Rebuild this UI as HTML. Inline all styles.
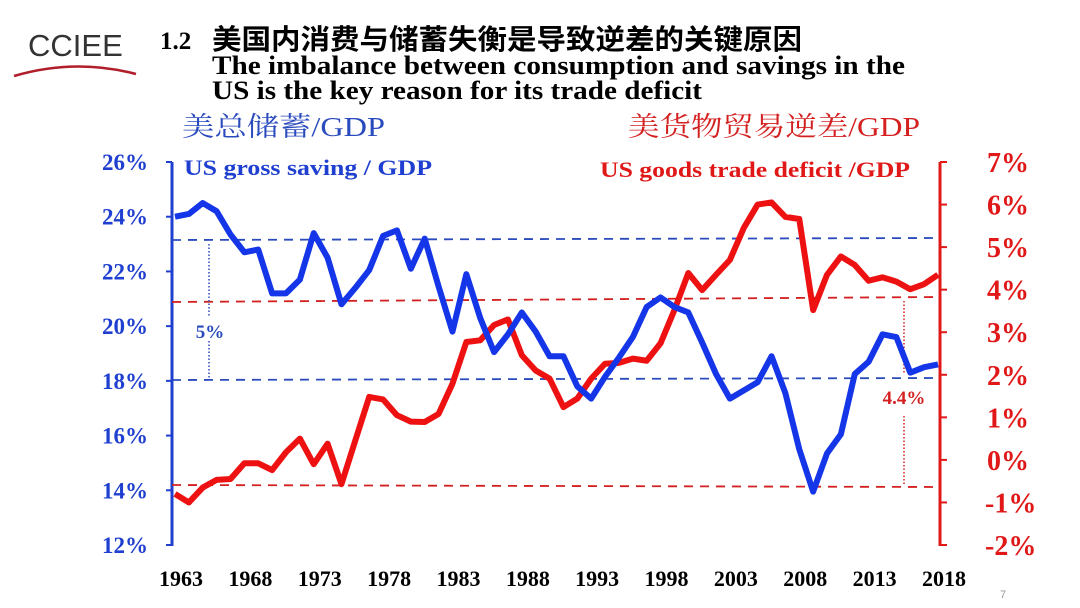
<!DOCTYPE html>
<html><head><meta charset="utf-8"><style>
body{margin:0;background:#fff;width:1080px;height:608px;overflow:hidden}
svg{display:block}
.t{font-family:"Liberation Serif","Noto Serif CJK SC",serif;font-weight:bold}
</style></head><body>
<svg id="c" width="1080" height="608">
<text x="28" y="56" font-family="Liberation Sans,sans-serif" font-size="31" fill="#333">CCIEE</text>
<path d="M14 76 Q75 58 136 74" stroke="#b01e2a" stroke-width="2.5" fill="none"/>
<text class="t" x="160" y="49" font-size="25" fill="#000">1.2</text>
<text x="212" y="49" font-size="28" font-family="Noto Sans CJK SC,sans-serif" font-weight="bold" fill="#000" textLength="590" lengthAdjust="spacingAndGlyphs">美国内消费与储蓄失衡是导致逆差的关键原因</text>
<text class="t" x="212" y="74" font-size="26" fill="#000" textLength="693" lengthAdjust="spacingAndGlyphs">The imbalance between consumption and savings in the</text>
<text class="t" x="212" y="99" font-size="26" fill="#000" textLength="490" lengthAdjust="spacingAndGlyphs">US is the key reason for its trade deficit</text>
<text x="182" y="136" font-size="27" fill="#2a4bbd" font-family="Liberation Serif,Noto Serif CJK SC,serif" textLength="203" lengthAdjust="spacingAndGlyphs">美总储蓄/GDP</text>
<text x="628" y="136" font-size="27" fill="#d42020" font-family="Liberation Serif,Noto Serif CJK SC,serif" textLength="292" lengthAdjust="spacingAndGlyphs">美货物贸易逆差/GDP</text>
<text class="t" x="184" y="175" font-size="22" fill="#1f3fd0" textLength="248" lengthAdjust="spacingAndGlyphs">US gross saving / GDP</text>
<text class="t" x="600" y="177" font-size="22" fill="#e01818" textLength="310" lengthAdjust="spacingAndGlyphs">US goods trade deficit /GDP</text>
<g id="g"></g>
</svg>
<script>
const years=[];for(let y=1963;y<=2018;y++)years.push(y);
const saving=[24.0,24.1,24.5,24.2,23.35,22.7,22.8,21.2,21.2,21.7,23.4,22.5,20.8,21.4,22.05,23.3,23.5,22.1,23.2,21.45,19.8,21.9,20.3,19.05,19.7,20.5,19.8,18.9,18.9,17.8,17.35,18.15,18.85,19.6,20.7,21.05,20.7,20.5,19.4,18.25,17.35,17.65,17.95,18.9,17.55,15.5,13.95,15.35,16.05,18.25,18.7,19.7,19.6,18.3,18.5,18.6];
const deficit=[-0.8,-1.0,-0.65,-0.47,-0.45,-0.08,-0.08,-0.24,0.18,0.5,-0.1,0.38,-0.57,0.46,1.48,1.42,1.05,0.9,0.89,1.08,1.79,2.77,2.81,3.17,3.3,2.46,2.1,1.91,1.24,1.44,1.91,2.26,2.28,2.38,2.33,2.74,3.52,4.39,3.99,4.35,4.7,5.45,6.0,6.05,5.71,5.66,3.52,4.35,4.78,4.58,4.21,4.29,4.19,4.01,4.13,4.35];
const leftTicks=[12,14,16,18,20,22,24,26];
const rightTicks=[-2,-1,0,1,2,3,4,5,6,7];
const xLabels=[1963,1968,1973,1978,1983,1988,1993,1998,2003,2008,2013,2018];
const X=y=>175+(y-1963)*(763/55);
const YL=v=>545-(v-12)*(383/14);
const YR=v=>545-(v+2)*(383/9);
const g=document.getElementById('g');const NS='http://www.w3.org/2000/svg';
function el(t,a){const e=document.createElementNS(NS,t);for(const k in a)e.setAttribute(k,a[k]);g.appendChild(e);return e;}
let e;
e=el('line',{x1:172,y1:162,x2:172,y2:546,stroke:'#1f3fd0','stroke-width':3});


e=el('line',{x1:940,y1:162,x2:940,y2:546,stroke:'#e01818','stroke-width':3});


leftTicks.forEach(v=>{
 el('line',{x1:166,x2:172,y1:YL(v),y2:YL(v),stroke:'#1f3fd0','stroke-width':2});
 e=el('text',{x:148,y:YL(v)+8,'text-anchor':'end',class:'t','font-size':23,fill:'#1f3fd0'});e.textContent=v+'%';
 
 
});
rightTicks.forEach(v=>{
 el('line',{x1:940,x2:947,y1:YR(v),y2:YR(v),stroke:'#e01818','stroke-width':2});
 e=el('text',{x:v<0?985:987,y:YR(v)+10,'text-anchor':'start',class:'t','font-size':28,fill:'#e01818'});e.textContent=v+'%';
 
 
});
xLabels.forEach(v=>{
 e=el('text',{x:X(v)+6,y:586,'text-anchor':'middle',class:'t','font-size':22,fill:'#000'});e.textContent=v;
 
 
});
[[240,238,'#2a4bbd'],[380,378,'#2a4bbd'],[302,297,'#d42020'],[485,487,'#d42020']].forEach(d=>{
 e=el('line',{x1:172,y1:d[0],x2:940,y2:d[1],stroke:d[2],'stroke-width':1.8,'stroke-dasharray':'9,7'});
 
 
});
el('line',{x1:209,y1:244,x2:209,y2:316,stroke:'#2a4bbd','stroke-width':1.5,'stroke-dasharray':'1.5,2'});
el('line',{x1:209,y1:341,x2:209,y2:378,stroke:'#2a4bbd','stroke-width':1.5,'stroke-dasharray':'1.5,2'});
e=el('text',{x:210,y:338,'text-anchor':'middle',class:'t','font-size':19,fill:'#2a4bbd'});e.textContent='5%';


el('line',{x1:904,y1:301,x2:904,y2:374,stroke:'#d42020','stroke-width':1.5,'stroke-dasharray':'1.5,2'});
el('line',{x1:904,y1:416,x2:904,y2:486,stroke:'#d42020','stroke-width':1.5,'stroke-dasharray':'1.5,2'});
e=el('text',{x:904,y:404,'text-anchor':'middle',class:'t','font-size':19,fill:'#d42020'});e.textContent='4.4%';


e=el('polyline',{points:years.map((y,i)=>X(y)+','+YR(deficit[i])).join(' '),fill:'none',stroke:'#ee1111','stroke-width':6,'stroke-linejoin':'round'});


e=el('polyline',{points:years.map((y,i)=>X(y)+','+YL(saving[i])).join(' '),fill:'none',stroke:'#1536e8','stroke-width':6,'stroke-linejoin':'round'});


e=el('text',{x:1000,y:598,'font-size':11,fill:'#999','font-family':'Liberation Sans,sans-serif'});e.textContent='7';


</script>
</body></html>
